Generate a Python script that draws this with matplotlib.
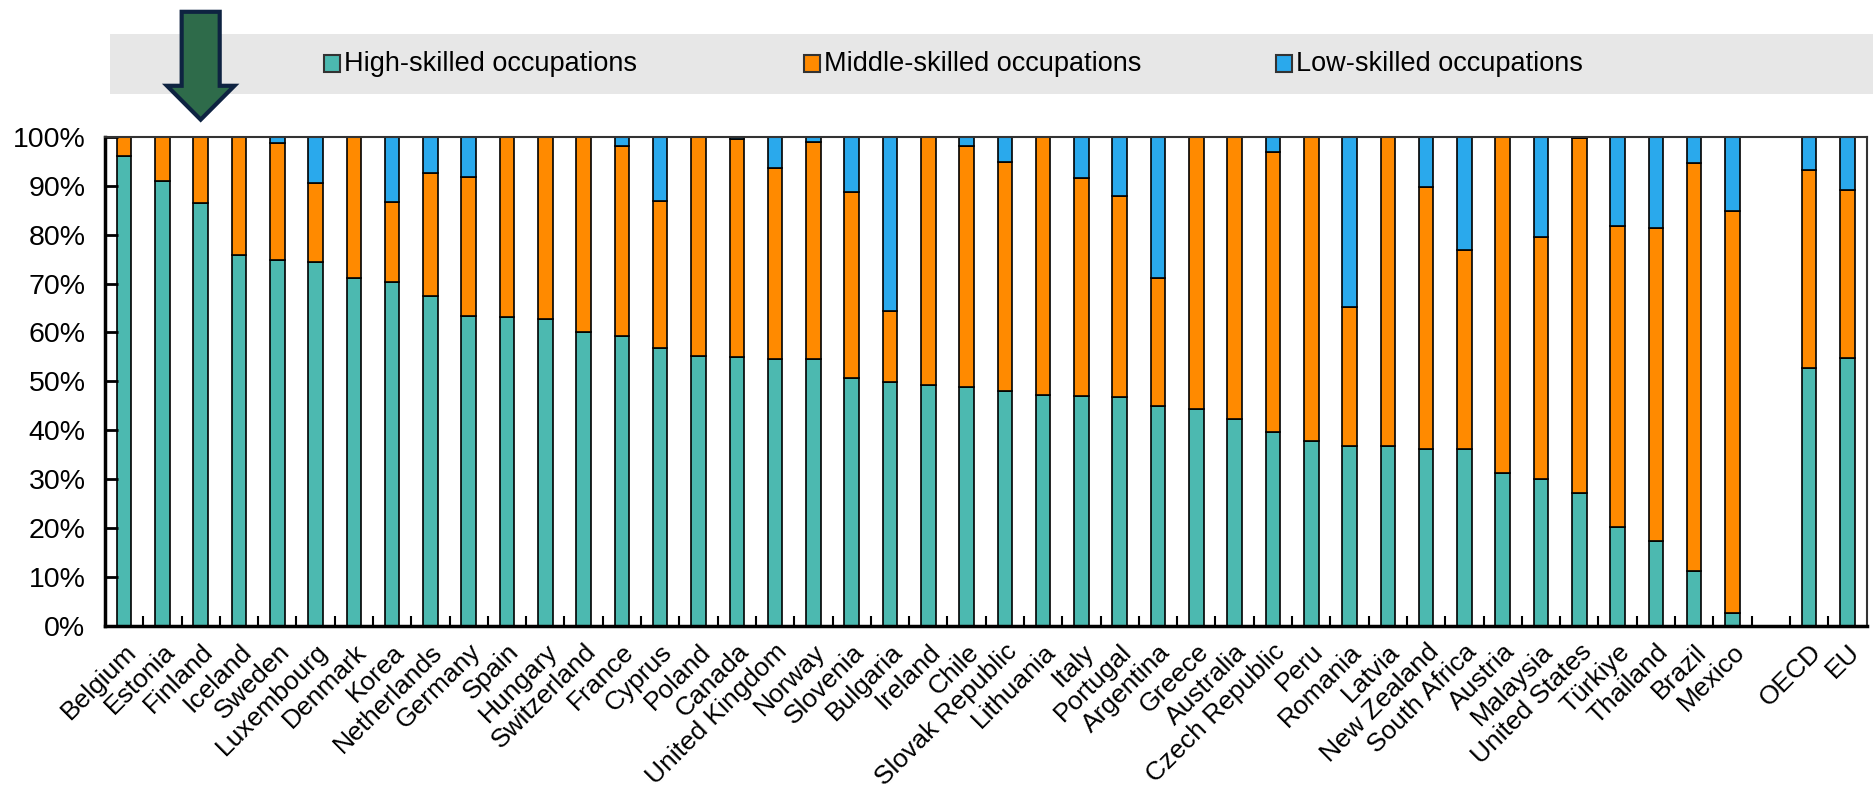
import numpy as np
import matplotlib
matplotlib.use("Agg")
import matplotlib.pyplot as plt
from matplotlib.patches import Rectangle, FancyArrow

plt.rcParams['font.family'] = ['Liberation Sans Narrow', 'Liberation Sans', 'DejaVu Sans']

countries = ["Belgium", "Estonia", "Finland", "Iceland", "Sweden", "Luxembourg",
             "Denmark", "Korea", "Netherlands", "Germany", "Spain", "Hungary",
             "Switzerland", "France", "Cyprus", "Poland", "Canada", "United Kingdom",
             "Norway", "Slovenia", "Bulgaria", "Ireland", "Chile", "Slovak Republic",
             "Lithuania", "Italy", "Portugal", "Argentina", "Greece", "Australia",
             "Czech Republic", "Peru", "Romania", "Latvia", "New Zealand",
             "South Africa", "Austria", "Malaysia", "United States", "Türkiye",
             "Thailand", "Brazil", "Mexico"]
aggregates = ["OECD", "EU"]

high = [96.0, 91.0, 86.5, 75.8, 74.8, 74.5, 71.1, 70.3, 67.4, 63.3, 63.1, 62.8,
        60.0, 59.2, 56.9, 55.2, 54.9, 54.6, 54.6, 50.7, 49.9, 49.3, 48.8, 48.1,
        47.2, 46.9, 46.8, 44.9, 44.4, 42.3, 39.6, 37.7, 36.8, 36.7, 36.2, 36.1,
        31.3, 30.1, 27.2, 20.1, 17.4, 11.2, 2.5]
middle = [4.0, 9.0, 13.5, 24.2, 24.0, 16.1, 28.9, 16.4, 25.3, 28.5, 36.9, 37.2,
          40.0, 39.0, 30.0, 44.8, 44.7, 39.0, 44.3, 38.0, 14.5, 50.7, 49.3, 46.7,
          52.8, 44.7, 41.1, 26.2, 55.6, 57.7, 57.3, 62.3, 28.4, 63.3, 53.6, 40.8,
          68.7, 49.4, 72.5, 61.6, 63.9, 83.5, 82.3]
low = [0.0, 0.0, 0.0, 0.0, 1.2, 9.4, 0.0, 13.3, 7.3, 8.2, 0.0, 0.0,
       0.0, 1.8, 13.1, 0.0, 0.4, 6.4, 1.1, 11.3, 35.6, 0.0, 1.9, 5.2,
       0.0, 8.4, 12.1, 28.9, 0.0, 0.0, 3.1, 0.0, 34.8, 0.0, 10.2, 23.1,
       0.0, 20.5, 0.3, 18.3, 18.7, 5.3, 15.2]
agg_high = [52.8, 54.8]
agg_middle = [40.4, 34.3]
agg_low = [6.8, 10.9]

series_names = ["High-skilled occupations", "Middle-skilled occupations", "Low-skilled occupations"]
colors = ["#4cb9b0", "#ff8a00", "#2aa9ec"]

labels = countries + aggregates
# one empty slot between countries and the aggregates
pos = np.r_[np.arange(len(countries)), np.arange(len(aggregates)) + len(countries) + 1]
h = np.array(high + agg_high)
m = np.array(middle + agg_middle)
l = np.array(low + agg_low)

fig = plt.figure(figsize=(18.74, 7.87), dpi=100)
ax = fig.add_axes([0.056, 0.205, 0.940, 0.621])

bw = 0.38
ax.bar(pos, h, bw, color=colors[0], edgecolor="black", linewidth=1.2)
ax.bar(pos, m, bw, bottom=h, color=colors[1], edgecolor="black", linewidth=1.2)
ax.bar(pos, l, bw, bottom=h + m, color=colors[2], edgecolor="black", linewidth=1.2)

ax.set_xlim(-0.5, pos[-1] + 0.5)
ax.set_ylim(0, 100)
ax.set_yticks(np.arange(0, 101, 10))
ax.set_yticklabels([f"{v}%" for v in range(0, 101, 10)], fontsize=20.5)
ax.tick_params(axis="y", direction="in", length=9, width=2, pad=14, colors="black")

ax.set_xticks(pos)
ax.set_xticklabels(labels, rotation=45, ha="right", rotation_mode="anchor", fontsize=19)
ax.tick_params(axis="x", which="major", length=0, pad=10)
ax.set_xticks(np.arange(0.5, pos[-1], 1.0), minor=True)
ax.tick_params(axis="x", which="minor", direction="in", length=7, width=1.5)

for side in ["left", "bottom"]:
    ax.spines[side].set_linewidth(2.5)
for side in ["top", "right"]:
    ax.spines[side].set_linewidth(1.5)
    ax.spines[side].set_color("#333333")

# legend band
fig.patches.append(Rectangle((0.0587, 0.881), 1.0 - 0.0587, 0.076,
                             transform=fig.transFigure, facecolor="#e7e7e7",
                             edgecolor="none", zorder=0))
leg_x = [0.173, 0.429, 0.681]
for x, name, c in zip(leg_x, series_names, colors):
    fig.patches.append(Rectangle((x, 0.909), 0.0085, 0.021, transform=fig.transFigure,
                                 facecolor=c, edgecolor="#333333", linewidth=1.5, zorder=2))
    fig.text(x + 0.0105, 0.919, name, fontsize=19.5, va="center", ha="left", zorder=3)

# arrow pointing at Finland
fx = fig.transFigure.inverted().transform(ax.transData.transform((pos[2], 0)))[0]
fig.patches.append(FancyArrow(fx, 0.985, 0, -0.137, width=0.0203, head_width=0.036,
                              head_length=0.043, length_includes_head=True,
                              transform=fig.transFigure, facecolor="#2e6b4a",
                              edgecolor="#0e2341", linewidth=3, zorder=5))

fig.savefig("out.png", dpi=100)
